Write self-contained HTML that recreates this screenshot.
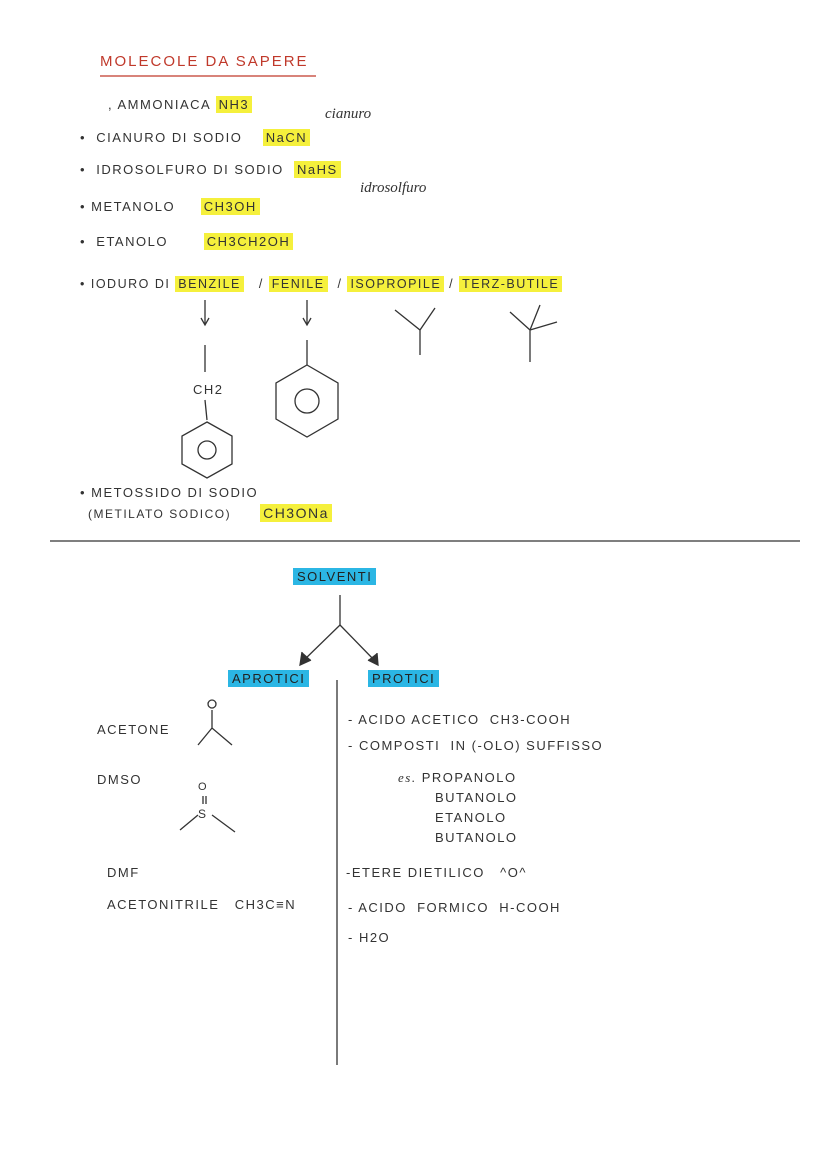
<!DOCTYPE html>
<html><head><meta charset="utf-8">
<style>
html,body{margin:0;padding:0;background:#fff;}
body{width:828px;height:1171px;position:relative;overflow:hidden;font-family:"Liberation Sans",sans-serif;color:#333;}
.t{position:absolute;font-size:13px;letter-spacing:1.5px;white-space:nowrap;line-height:16px;}
.y{background:#f5f03c;padding:1px 3px;}
.b{background:#2bb6e4;padding:1px 4px;color:#222;}
.c{position:absolute;font-family:"Liberation Serif",serif;font-style:italic;font-size:15px;white-space:nowrap;}
svg{position:absolute;left:0;top:0;}
</style></head><body>
<svg width="828" height="1171" stroke="#333" fill="none" stroke-width="1.3">
<line x1="100" y1="76" x2="316" y2="76" stroke="#c0392b"/>
<line x1="50" y1="541" x2="800" y2="541"/>
<!-- arrows -->
<line x1="205" y1="300" x2="205" y2="324"/><path d="M201 318 L205 325 L209 318"/>
<line x1="307" y1="300" x2="307" y2="324"/><path d="M303 318 L307 325 L311 318"/>
<!-- isopropyl -->
<path d="M395 310 L420 330 L435 308 M420 330 L420 355"/>
<!-- tert-butyl -->
<path d="M510 312 L530 330 L540 305 M530 330 L557 322 M530 330 L530 362"/>
<!-- benzyl -->
<line x1="205" y1="345" x2="205" y2="372"/>
<line x1="205" y1="400" x2="207" y2="420"/>
<polygon points="207,422 232,436 232,464 207,478 182,464 182,436"/>
<circle cx="207" cy="450" r="9"/>
<!-- phenyl -->
<line x1="307" y1="340" x2="307" y2="365"/>
<polygon points="307,365 338,383 338,419 307,437 276,419 276,383"/>
<circle cx="307" cy="401" r="12"/>
<!-- solventi tree -->
<line x1="340" y1="595" x2="340" y2="625"/>
<line x1="340" y1="625" x2="302" y2="662"/><path d="M302 652 L300 665 L311 660" fill="#333"/>
<line x1="340" y1="625" x2="376" y2="662"/><path d="M368 660 L378 665 L377 653" fill="#333"/>
<line x1="337" y1="680" x2="337" y2="1065"/>
<!-- acetone -->
<circle cx="212" cy="704" r="4"/>
<path d="M212 710 L212 728 M198 745 L212 728 L232 745"/>
<!-- DMSO -->
<path d="M203 796 L203 804 M206 796 L206 804 M180 830 L198 815 M212 815 L235 832"/>
</svg>
<div class="t" style="left:100px;top:54px;color:#c0392b;font-size:15px;letter-spacing:2px">MOLECOLE DA SAPERE</div>
<div class="t" style="left:108px;top:97px">, AMMONIACA <span class="y">NH3</span></div>
<div class="c" style="left:325px;top:106px">cianuro</div>
<div class="t" style="left:80px;top:130px">•&nbsp; CIANURO DI SODIO&nbsp;&nbsp;&nbsp; <span class="y">NaCN</span></div>
<div class="t" style="left:80px;top:162px">•&nbsp; IDROSOLFURO DI SODIO&nbsp; <span class="y">NaHS</span></div>
<div class="c" style="left:360px;top:180px">idrosolfuro</div>
<div class="t" style="left:80px;top:199px">• METANOLO&nbsp;&nbsp;&nbsp;&nbsp; <span class="y">CH3OH</span></div>
<div class="t" style="left:80px;top:234px">•&nbsp; ETANOLO&nbsp;&nbsp;&nbsp;&nbsp;&nbsp;&nbsp; <span class="y">CH3CH2OH</span></div>
<div class="t" style="left:80px;top:276px;font-size:12.5px">• IODURO DI <span class="y">BENZILE</span>&nbsp;&nbsp; / <span class="y">FENILE</span>&nbsp; / <span class="y">ISOPROPILE</span> / <span class="y">TERZ-BUTILE</span></div>
<div class="t" style="left:193px;top:382px">CH2</div>
<div class="t" style="left:80px;top:485px">• METOSSIDO DI SODIO</div>
<div class="t" style="left:88px;top:505px;font-size:12px">(METILATO SODICO)&nbsp;&nbsp;&nbsp;&nbsp;&nbsp; <span class="y" style="font-size:14px">CH3ONa</span></div>
<div class="t" style="left:293px;top:569px"><span class="b">SOLVENTI</span></div>
<div class="t" style="left:228px;top:671px"><span class="b">APROTICI</span></div>
<div class="t" style="left:368px;top:671px"><span class="b">PROTICI</span></div>
<div class="t" style="left:97px;top:722px">ACETONE</div>
<div class="t" style="left:97px;top:772px">DMSO</div>
<div class="t" style="left:198px;top:779px;font-size:11px">O</div>
<div class="t" style="left:198px;top:806px;font-size:12px">S</div>
<div class="t" style="left:107px;top:865px">DMF</div>
<div class="t" style="left:107px;top:897px">ACETONITRILE&nbsp;&nbsp; CH3C≡N</div>
<div class="t" style="left:348px;top:712px">- ACIDO ACETICO&nbsp; CH3-COOH</div>
<div class="t" style="left:348px;top:738px">- COMPOSTI&nbsp; IN (-OLO) SUFFISSO</div>
<div class="t" style="left:398px;top:770px"><i style="font-family:'Liberation Serif',serif">es.</i> PROPANOLO</div>
<div class="t" style="left:435px;top:790px">BUTANOLO</div>
<div class="t" style="left:435px;top:810px">ETANOLO</div>
<div class="t" style="left:435px;top:830px">BUTANOLO</div>
<div class="t" style="left:346px;top:865px">-ETERE DIETILICO&nbsp;&nbsp; ^O^</div>
<div class="t" style="left:348px;top:900px">- ACIDO&nbsp; FORMICO&nbsp; H-COOH</div>
<div class="t" style="left:348px;top:930px">- H2O</div>
</body></html>
